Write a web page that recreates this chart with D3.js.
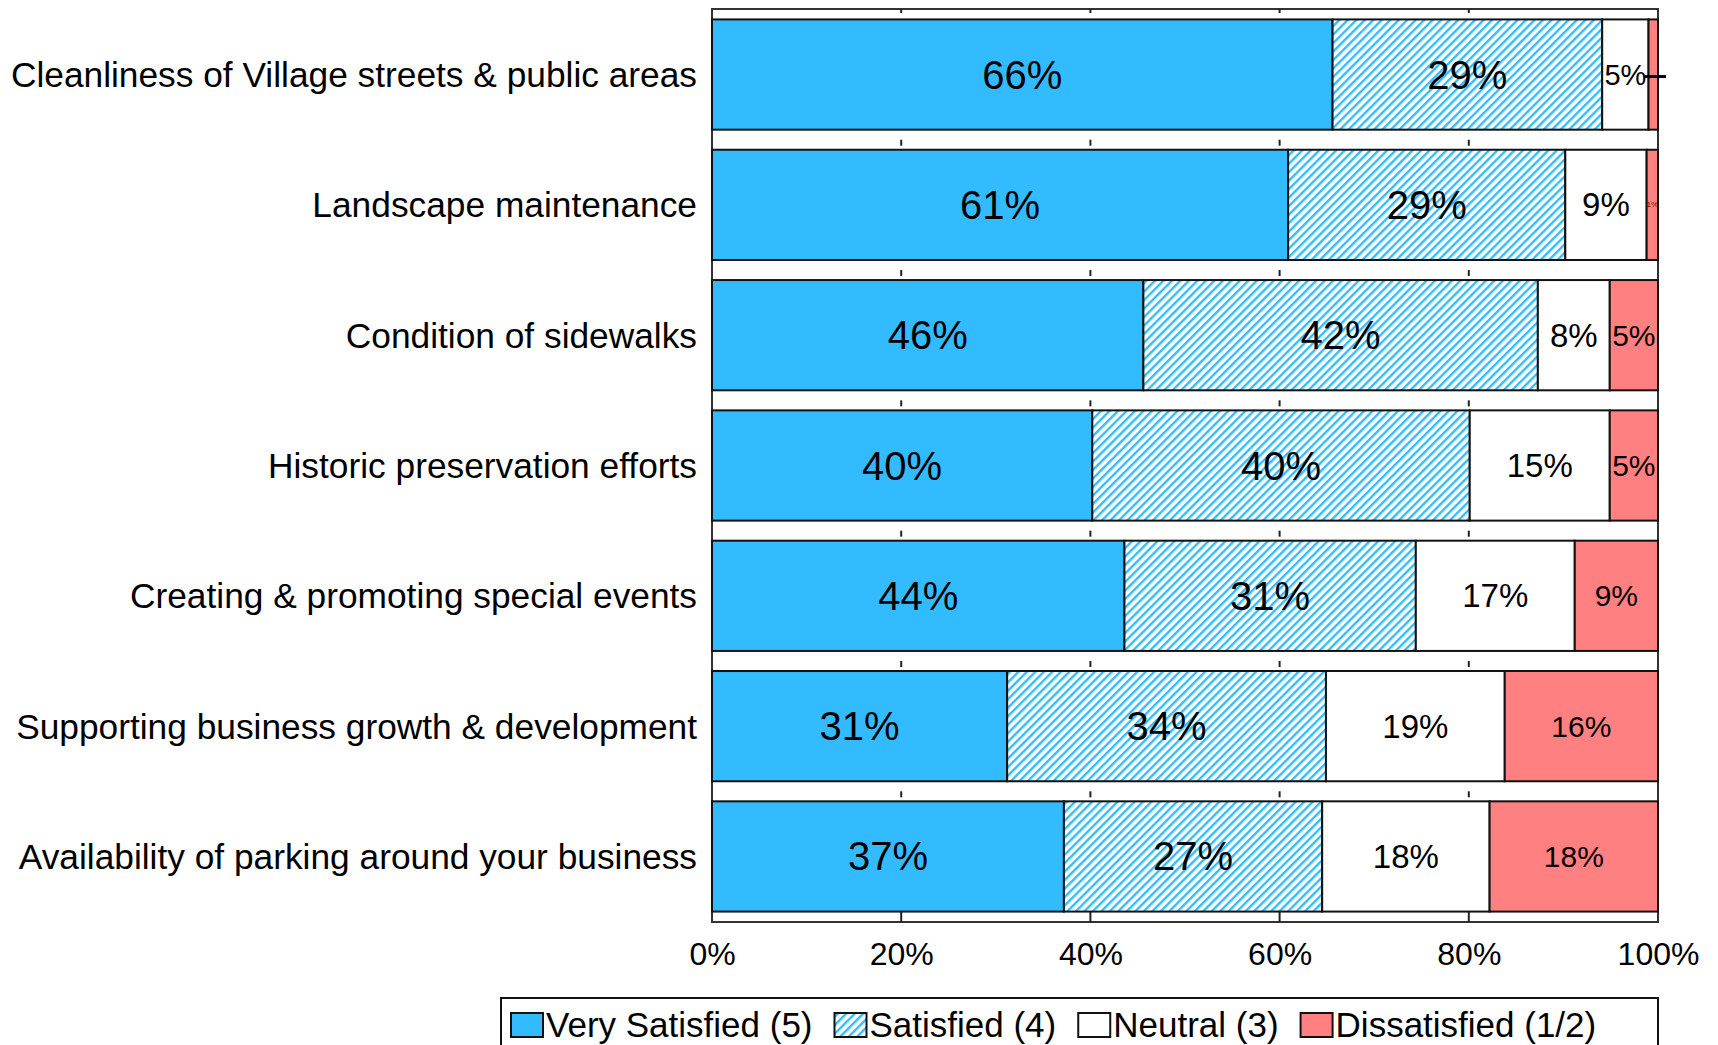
<!DOCTYPE html>
<html>
<head>
<meta charset="utf-8">
<script src="https://cdn.jsdelivr.net/npm/d3@7"></script>
<style>
  body { margin: 0; background: #fff; }
  svg { font-family: "Liberation Sans", Arial, sans-serif; }
</style>
</head>
<body>
<svg id="chart" width="1718" height="1045"></svg>
<script>
const categories = [
  "Cleanliness of Village streets & public areas",
  "Landscape maintenance",
  "Condition of sidewalks",
  "Historic preservation efforts",
  "Creating & promoting special events",
  "Supporting business growth & development",
  "Availability of parking around your business"
];
const seriesNames = ["Very Satisfied (5)", "Satisfied (4)", "Neutral (3)", "Dissatisfied (1/2)"];
const verySatisfied = [65.6, 60.9, 45.6, 40.2, 43.6, 31.2, 37.2];
const satisfied     = [28.5, 29.3, 41.7, 39.9, 30.8, 33.7, 27.3];
const neutral       = [4.9, 8.6, 7.6, 14.8, 16.8, 18.9, 17.7];
const dissatisfied  = [1.0, 1.2, 5.1, 5.1, 8.8, 16.2, 17.8];
const tickValues = [0, 20, 40, 60, 80, 100];

const keys = ["vs", "s", "n", "d"];
const rows = categories.map((c, i) => ({
  cat: c, vs: verySatisfied[i], s: satisfied[i], n: neutral[i], d: dissatisfied[i]
}));

const svg = d3.select("#chart");

// hatch for "Satisfied"
const defs = svg.append("defs");
const pat = defs.append("pattern")
  .attr("id", "hatch")
  .attr("patternUnits", "userSpaceOnUse")
  .attr("width", 6).attr("height", 6)
  .attr("patternTransform", "rotate(45)");
pat.append("rect").attr("width", 6).attr("height", 6).attr("fill", "#fff");
pat.append("rect").attr("width", 2.4).attr("height", 6).attr("fill", "#33bbff");

const fills = ["#33bbff", "url(#hatch)", "#ffffff", "#ff8080"];
const labelSize = [40, 40, 33, 30];

var plot = { left: 712, right: 1658, top: 9, bottom: 922 };

var x = d3.scaleLinear().domain([0, 100]).range([plot.left, plot.right]);
var y = d3.scaleBand()
  .domain(categories)
  .range([plot.top, plot.bottom])
  .paddingInner(0.154)
  .paddingOuter(0.08);

const stacked = d3.stack().keys(keys)(rows);

// plot frame
svg.append("rect")
  .attr("x", plot.left).attr("y", plot.top)
  .attr("width", plot.right - plot.left).attr("height", plot.bottom - plot.top)
  .attr("fill", "#fff").attr("stroke", "#333").attr("stroke-width", 2);

// ticks in the gaps between bars
const inner = tickValues.slice(1, -1);
categories.forEach(function(c, i) {
  var gapTop = y(c) + y.bandwidth();
  var gapBot = (i < categories.length - 1) ? y(categories[i + 1]) : plot.bottom;
  var mid = (gapTop + gapBot) / 2;
  svg.selectAll(null).data(inner).enter().append("line")
    .attr("x1", d => x(d)).attr("x2", d => x(d))
    .attr("y1", i < categories.length - 1 ? mid : gapTop)
    .attr("y2", i < categories.length - 1 ? mid + 6 : gapBot)
    .attr("stroke", "#222").attr("stroke-width", 2);
});
svg.selectAll(null).data(inner).enter().append("line")
  .attr("x1", d => x(d)).attr("x2", d => x(d))
  .attr("y1", plot.top).attr("y2", plot.top + 4)
  .attr("stroke", "#222").attr("stroke-width", 2);

// bars
const layer = svg.selectAll(".layer")
  .data(stacked)
  .enter().append("g")
    .attr("class", "layer");

layer.selectAll("rect")
  .data((d, si) => d.map(p => ({ p: p, si: si })))
  .enter().append("rect")
    .attr("x", d => x(d.p[0]))
    .attr("y", d => y(d.p.data.cat))
    .attr("width", d => x(d.p[1]) - x(d.p[0]))
    .attr("height", y.bandwidth())
    .attr("fill", d => fills[d.si])
    .attr("stroke", "#111")
    .attr("stroke-width", 2);

// value labels
layer.each(function(series, si) {
  var g = d3.select(this);
  series.forEach(function(p) {
    var x0 = x(p[0]), x1 = x(p[1]);
    var w = x1 - x0;
    var cy = y(p.data.cat) + y.bandwidth() / 2;
    var val = p[1] - p[0];
    if (w < 11) {
      // too narrow: leader line only
      g.append("line")
        .attr("x1", x0 - 4).attr("x2", x1 + 8)
        .attr("y1", cy + 2).attr("y2", cy + 2)
        .attr("stroke", "#000").attr("stroke-width", 3);
      return;
    }
    var t = g.append("text")
      .attr("x", (x0 + x1) / 2)
      .attr("y", cy)
      .attr("text-anchor", "middle")
      .attr("dominant-baseline", "central")
      .attr("fill", "#000")
      .text(Math.round(val) + "%");
    if (w < 20) {
      t.attr("font-size", 8).attr("fill", "#800000");
      return;
    }
    var fs = labelSize[si];
    t.attr("font-size", fs);
    var tw = t.node().getComputedTextLength();
    if (tw > w - 4) {
      fs = Math.floor(fs * (w - 4) / tw);
      t.attr("font-size", fs);
    }
  });
});

// category labels
svg.append("g")
  .selectAll("text")
  .data(categories)
  .enter().append("text")
    .attr("x", plot.left - 15)
    .attr("y", d => y(d) + y.bandwidth() / 2)
    .attr("text-anchor", "end")
    .attr("dominant-baseline", "central")
    .attr("font-size", 35.3)
    .attr("fill", "#000")
    .text(d => d);

// x axis labels
var xAxis = d3.axisBottom(x)
  .tickValues(tickValues)
  .tickSize(0)
  .tickPadding(20)
  .tickFormat(d => d + "%");

var ax = svg.append("g")
  .attr("transform", "translate(0," + plot.bottom + ")")
  .call(xAxis);
ax.select(".domain").remove();
ax.selectAll("text")
  .attr("font-size", 32)
  .attr("font-family", "Liberation Sans, Arial, sans-serif")
  .attr("fill", "#000");

// legend
var legend = svg.append("g");
legend.append("rect")
  .attr("x", 501).attr("y", 998)
  .attr("width", 1658 - 501).attr("height", 80)
  .attr("fill", "#fff").attr("stroke", "#111").attr("stroke-width", 2);

var lx = 511;
seriesNames.forEach(function(name, i) {
  legend.append("rect")
    .attr("x", lx).attr("y", 1013)
    .attr("width", 32).attr("height", 24)
    .attr("fill", fills[i]).attr("stroke", "#111").attr("stroke-width", 2);
  var t = legend.append("text")
    .attr("x", lx + 35).attr("y", 1024)
    .attr("dominant-baseline", "central")
    .attr("font-size", 35)
    .attr("fill", "#000")
    .text(name);
  lx += 35 + t.node().getComputedTextLength() + 22;
});
</script>
</body>
</html>
